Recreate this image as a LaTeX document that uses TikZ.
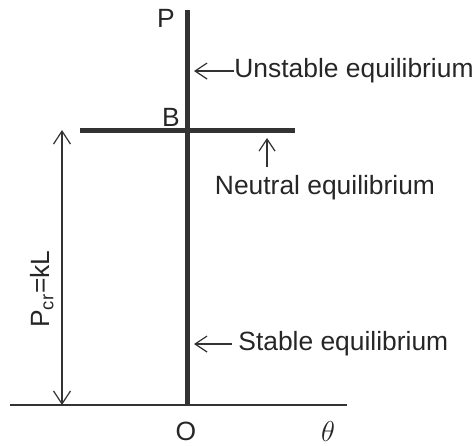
\documentclass[tikz,border=0pt]{standalone}
\usepackage{fontspec}
\setmainfont{Liberation Sans}
\usepackage{tikz}
\usetikzlibrary{arrows.meta}

\begin{document}
\begin{tikzpicture}[
  x=0.5pt, y=-0.5pt,
  font=\fontsize{13.2}{15}\selectfont,
  member/.style={line width=2.5pt, color=black!80},
  axis/.style={line width=0.75pt, color=black!80},
  dim/.style={{Straight Barb[length=6.5pt,width=8.5pt]}-{Straight Barb[length=6.5pt,width=8.5pt]}, line width=0.6pt, color=black!80},
  ptr/.style={-{Straight Barb[length=6pt,width=8pt]}, line width=0.6pt, color=black!80},
  lab/.style={inner sep=0pt, color=black!85}
]
\useasboundingbox (0,0) rectangle (475,445);

% column and bar
\coordinate (top) at (187,10);
\coordinate (bot) at (187,405);
\coordinate (barl) at (80,130);
\coordinate (barr) at (295,130);
\coordinate (axl) at (10,405);
\coordinate (axr) at (347,405);
\coordinate (dimt) at (62,130);
\coordinate (dimb) at (62,405);
\coordinate (hu) at (194,71);
\coordinate (hn) at (267,138);
\coordinate (hs) at (194,344);

\draw[axis] (axl) -- (axr);
\draw[member] (top) -- (bot);
\draw[member] (barl) -- (barr);
\draw[dim] (dimt) -- (dimb);

\node[lab] (P) at (166,18) {P};
\node[lab] (B) at (171,117) {B};
\node[lab] (O) at (186,431) {O};
\node[lab, font=\fontsize{14}{16}\selectfont] (th) at (328,431) {$\theta$};
\node[lab, rotate=90] (pcr) at (42,289) {P$_{\mathrm{cr}}$=kL};

\node[lab, anchor=west] (un) at (234,71) {Unstable equilibrium};
\node[lab] (ne) at (325,188) {Neutral equilibrium};
\node[lab, anchor=west] (st) at (238,344) {Stable equilibrium};

\draw[ptr] (un.west) -- (hu);
\draw[ptr, shorten <=4pt] (ne.north -| hn) -- (hn);
\draw[ptr, shorten <=3pt] (st.west) -- (hs);
\end{tikzpicture}
\end{document}
